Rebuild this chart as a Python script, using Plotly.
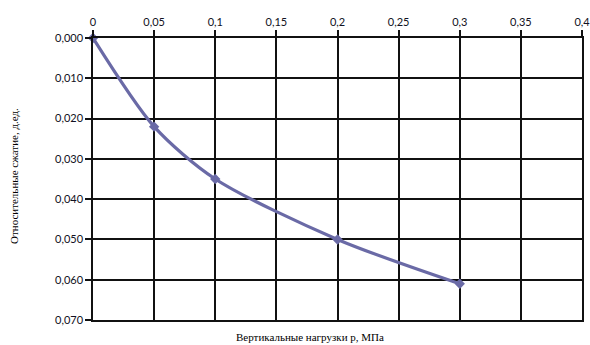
import plotly.graph_objects as go

loads = [0, 0.05, 0.1, 0.2, 0.3]
strain = [0.0, 0.022, 0.035, 0.050, 0.061]

x_ticks = [0, 0.05, 0.1, 0.15, 0.2, 0.25, 0.3, 0.35, 0.4]
x_labels = ["0", "0,05", "0,1", "0,15", "0,2", "0,25", "0,3", "0,35", "0,4"]
y_ticks = [0, 0.01, 0.02, 0.03, 0.04, 0.05, 0.06, 0.07]
y_labels = ["0,000", "0,010", "0,020", "0,030", "0,040", "0,050", "0,060", "0,070"]

fig = go.Figure()
fig.add_trace(go.Scatter(
    x=loads, y=strain, mode="lines+markers",
    line=dict(color="#6A6AA6", width=3.2, shape="spline", smoothing=0.8),
    marker=dict(symbol="diamond", size=8, color="#6A6AA6"),
    showlegend=False, cliponaxis=False,
))

tick_font = dict(family="Lato, Open Sans, sans-serif", size=11, color="#111122")
title_font = dict(family="Liberation Serif, Times New Roman, serif", size=11, color="#000000")

W, H = 590, 345
L, R, T, B = 93, 8, 38, 25
plot_w = W - L - R
plot_h = H - T - B

fig.update_layout(
    width=W, height=H,
    margin=dict(l=L, r=R, t=T, b=B, autoexpand=False),
    plot_bgcolor="white", paper_bgcolor="white",
    xaxis=dict(
        side="top", range=[0, 0.4], tickvals=x_ticks, ticktext=x_labels,
        showgrid=True, gridcolor="#111111", gridwidth=1.5,
        showline=True, linecolor="#111111", linewidth=1.5, mirror=True,
        ticks="outside", ticklen=6, tickcolor="#111111", tickwidth=1.5,
        zeroline=False, tickfont=tick_font, automargin=False,
        ticklabeloverflow="allow",
    ),
    yaxis=dict(
        range=[0.07, 0], tickvals=y_ticks, ticktext=y_labels,
        showgrid=True, gridcolor="#111111", gridwidth=1.5,
        showline=True, linecolor="#111111", linewidth=1.5, mirror=True,
        ticks="outside", ticklen=6, tickcolor="#111111", tickwidth=1.5,
        zeroline=False, tickfont=tick_font, automargin=False,
        ticklabeloverflow="allow",
    ),
    annotations=[
        dict(text="Вертикальные нагрузки р, МПа",
             x=(310 - L) / plot_w, y=-(337 - (H - B)) / plot_h,
             xref="paper", yref="paper", xanchor="center", yanchor="middle",
             showarrow=False, font=title_font),
        dict(text="Относительные сжатие, д.ед.",
             x=(14 - L) / plot_w, y=1 - (176 - T) / plot_h,
             xref="paper", yref="paper", xanchor="center", yanchor="middle",
             showarrow=False, textangle=-90, font=title_font),
    ],
)

fig.write_html(
    "out.html",
    config={"displayModeBar": False},
    post_script="document.body.style.margin='0';document.body.style.overflow='hidden';",
)
